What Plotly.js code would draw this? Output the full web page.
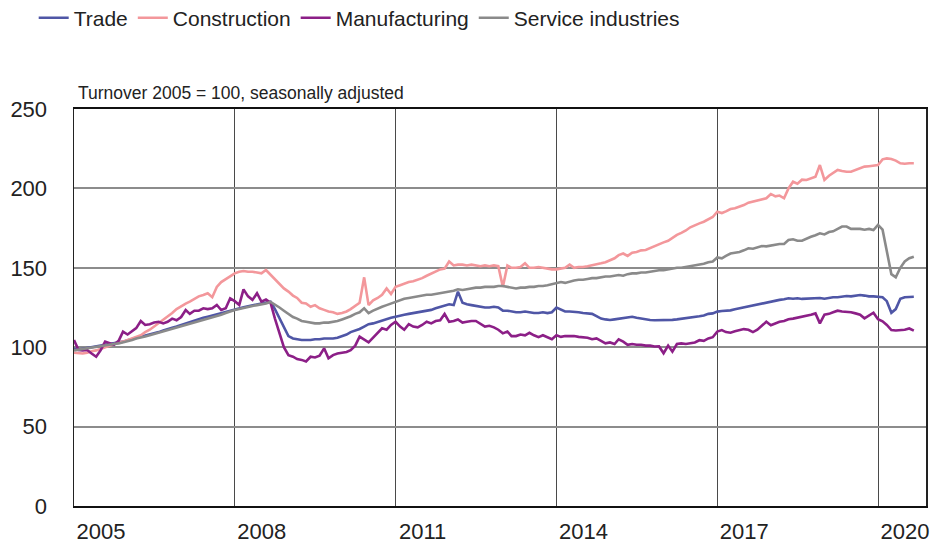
<!DOCTYPE html>
<html>
<head>
<meta charset="utf-8">
<script src="https://cdn.plot.ly/plotly-3.0.1.min.js"></script>
<style>html,body{margin:0;padding:0;background:#fff;}#chart{width:936px;height:547px;}</style>
</head>
<body>
<div id="chart"></div>
<script>
// Monthly index, Jan 2005 .. Sep 2020 (2005 = 100, seasonally adjusted)
const startYear = 2005;
const yTicks = [0, 50, 100, 150, 200, 250];
const xTickYears = [2005, 2008, 2011, 2014, 2017, 2020];

const trade = [
  99, 98.5, 99, 99.5, 99.8, 100.2, 100.8, 101.3, 101.8, 102.3, 103, 103.5,
  104.3, 105, 105.8, 106.6, 107.3, 107.8, 108.7, 109.5, 110.5, 111.5, 112.3, 113,
  114, 115, 116, 116.8, 117.8, 118.5, 119.2, 120, 120.8, 121.5, 122.3, 123.2,
  124, 124.6, 125.2, 125.8, 126.3, 126.8, 127.3, 127.8, 128.7, 124, 118, 112,
  107, 105.5, 105, 104.5, 104.5, 104.5, 105, 105, 105.5, 105.5, 105.5, 106,
  107, 108, 109.5, 110.5, 111.5, 113, 114.5, 115, 116, 117, 118, 118.5,
  119.2, 120, 120.5, 121, 121.5, 122.2, 122.5, 123, 123.5, 124.5, 125.5, 126,
  127, 126.5, 135, 128, 127, 126.5, 126, 125.5, 125, 125, 125.5, 125,
  123, 123, 122.5, 122, 122, 122.5, 122, 121.5, 121.5, 122, 121.5, 122,
  124.9, 123.5, 122.5, 122.5, 122.4, 122, 121.5, 121.3, 121, 119.5, 118, 117.5,
  117.1, 117.5, 118, 118.5, 119, 119.2, 118.5, 118, 117.5, 117.1, 117, 117,
  117.1, 117, 117.2, 117.5, 117.8, 118.2, 118.5, 119, 119.5, 120, 121, 121.3,
  122.4, 122.8, 123, 123.2, 123.9, 124.5, 125.2, 126, 126.6, 127.3, 127.8, 128.4,
  128.7, 129.3, 129.8, 130.2, 130.8, 130.5, 130.8, 130.4, 130.5, 130.8, 130.6, 131,
  130.5, 131, 131.5, 131.5, 132, 132.2, 132, 132.5, 132.9, 132.5, 132, 132,
  131.8, 131.5, 129, 121.7, 124, 130.5, 131.5, 131.8, 131.8
];

const construction = [
  96.5, 96.2, 96, 96.5, 97.5, 98, 99, 100, 101, 102, 103, 103.5,
  104.5, 105.5, 106.5, 107.5, 109.5, 111, 113, 115, 117, 119.5, 121.5, 124,
  126, 127.5, 128.7, 130.5, 132, 132.9, 134, 131.5, 138, 141, 143, 145,
  146.5, 147.5, 148, 147.5, 147.5, 147, 146.5, 148.6, 145.5, 143, 139.5, 137,
  135, 132.5, 131, 128, 127.5, 125.5, 126.5, 124.5, 123.5, 122.5, 122, 121,
  121.5, 122.5, 124, 126, 128, 144, 126.5, 129.5, 131, 133, 137, 133.5,
  138, 139, 140, 141, 141.5, 142.3, 143.5, 145, 146.5, 148, 149, 149.5,
  154, 151.5, 152, 152, 151.5, 152, 151.5, 151, 151.5, 151, 151.5, 151,
  138, 151.5, 150, 150, 150.5, 152.8, 150, 150, 150.5, 150, 149.5, 149,
  149, 149.5, 150, 152, 150, 150.5, 150.5, 151, 151.5, 152, 152.8, 153.5,
  155, 156, 158, 159, 157.5, 159.5, 160, 161, 161.2, 162.5, 163.5, 165,
  166, 167, 169, 170.7, 172, 173.5, 175.5, 176.5, 178, 179, 180.5, 182,
  185.3, 184.5, 185.5, 187, 187.5, 188.5, 189.5, 191, 191.7, 192.5, 193, 193.8,
  196.5, 195, 195.5, 193.8, 200, 204.2, 203, 205.5, 205.3, 206.5, 207.4, 214.7,
  205.3, 208, 209.5, 211.6, 211, 210.5, 210.5, 211.5, 212.5, 213.7, 214, 214.5,
  214.7, 218.3, 218.9, 218.5, 217.5, 215.8, 215.5, 215.8, 215.8
];

const manufacturing = [
  104.5, 98.2, 98, 98.2, 96, 94, 98, 103.5, 102.5, 101.5, 104, 109.8,
  108, 110, 112, 116.5, 114, 114.5, 115.5, 116, 115, 116, 118, 117,
  119, 123.4, 121, 123, 123, 124.5, 124, 124.5, 126.6, 123.4, 124.5, 130.8,
  129, 126.6, 136.4, 132, 129.8, 134, 128.7, 130, 128, 118, 109, 100,
  95, 94, 92.5, 92, 91, 94, 93.5, 94.6, 99.3, 93, 95, 96,
  96.5, 97, 98.2, 101, 106.6, 105, 103, 106, 109, 111.9, 111, 114,
  116, 113, 111, 114.5, 113, 112.5, 114, 116, 115, 116.5, 117, 120.9,
  116, 116.5, 117.5, 115.5, 116, 116.5, 116.5, 115, 113, 113.5, 112.5, 111,
  108.7, 109.8, 107, 107, 108, 107.5, 109.1, 107.5, 106.3, 107.5, 106, 105,
  107.5, 106.5, 107, 107, 107, 106.5, 106.3, 106, 105, 105.5, 104, 102.4,
  103, 102, 105, 103.5, 101.5, 102, 101.5, 101.5, 101, 101, 100.4, 100.5,
  96.2, 101, 97.2, 102, 102.4, 102, 102.5, 103, 104.4, 104, 105.5, 106.3,
  109.8, 110.8, 109.5, 109.1, 110, 110.5, 111.4, 111, 109.5, 111, 113.4, 116,
  113.8, 115, 116, 116.5, 117.6, 118, 118.5, 119.2, 120, 120.5, 121.3, 115,
  120.5, 121, 122, 123, 122.5, 122.4, 122, 121.3, 120.5, 118.2, 120, 121.7,
  117.6, 116.3, 114, 110.8, 110.5, 110.8, 111, 111.8, 110.4
];

const services = [
  98, 98.5, 98.8, 99.2, 99.5, 100, 100.6, 101, 101.5, 102, 102.4, 103,
  104, 104.5, 105.5, 106, 106.8, 107.5, 108.3, 109, 110, 110.8, 111.5, 112.2,
  113, 113.8, 114.5, 115.3, 116.2, 117.4, 118, 118.8, 119.7, 120.5, 121.5, 122.5,
  123.4, 124, 124.8, 125.5, 126, 126.5, 127, 127.5, 128.5, 127, 125, 123,
  121, 119, 118, 116.5, 116, 115.5, 115, 115, 115.5, 115.5, 116, 116.5,
  117.5, 118.5, 119.5, 121, 122, 124.5, 121.5, 123, 124.5, 125.5, 126.5, 127.5,
  128.5, 129.5, 130.5, 131, 131.5, 132, 132.5, 133, 133, 133.5, 134, 134.5,
  135, 135.5, 136.5, 136, 136.5, 137, 137.5, 137.5, 138, 138, 138, 138.5,
  138.5, 138, 137.5, 137, 137.5, 137.5, 138, 138, 138.5, 138.5, 139, 139.5,
  140.5, 141, 140.5, 141.5, 142, 142.5, 142.5, 143, 143.5, 143.5, 144, 144.5,
  144.5, 145, 145.5, 145, 146, 146.5, 146.5, 147, 147, 147.5, 148, 148.5,
  148.5, 149, 149.5, 150, 150, 150.5, 151, 151.5, 152, 152.5, 153.5, 154,
  156.5, 156, 157.5, 159, 159.5, 160, 161, 162.3, 162, 163, 163.7, 163.5,
  164, 164.5, 165, 165, 167.5, 168, 167, 167, 168.5, 169.5, 170.5, 171.7,
  171, 172.5, 173, 174.5, 176, 176, 174.5, 174.5, 174.5, 174, 174.5, 173.8,
  177, 174, 160, 146, 144, 150, 154, 156, 157
];

function monthDates(n) {
  const out = [];
  for (let i = 0; i < n; i++) {
    const y = startYear + Math.floor(i / 12);
    const m = (i % 12) + 1;
    out.push(y + '-' + String(m).padStart(2, '0') + '-01');
  }
  return out;
}

const FONT = 'Liberation Sans, Arial, sans-serif';
const series = [
  {name: 'Trade', y: trade, color: '#4f56a6'},
  {name: 'Construction', y: construction, color: '#f3979b'},
  {name: 'Manufacturing', y: manufacturing, color: '#8c1f87'},
  {name: 'Service industries', y: services, color: '#8a8a8a'}
];

const traces = series.map(s => ({
  type: 'scatter', mode: 'lines', name: s.name,
  x: monthDates(s.y.length), y: s.y,
  line: {color: s.color, width: 2.6}
}));

const layout = {
  width: 936, height: 547,
  margin: {l: 74, r: 10, t: 109, b: 41},
  paper_bgcolor: '#fff', plot_bgcolor: '#fff',
  font: {family: FONT, color: '#222'},
  showlegend: true,
  legend: {
    orientation: 'h', xref: 'container', x: 0.036, xanchor: 'left',
    yref: 'container', y: 0.967, yanchor: 'middle',
    font: {size: 21, color: '#222', family: FONT},
    itemwidth: 30, tracegroupgap: 0, bgcolor: 'rgba(0,0,0,0)'
  },
  xaxis: {
    type: 'date',
    range: ['2005-01-01', '2020-11-23'],
    tickmode: 'array',
    tickvals: xTickYears.map(y => y + '-01-01'),
    ticktext: xTickYears.map(String),
    ticklabelshift: 27,
    ticklabelstandoff: 5,
    ticks: '',
    tickfont: {size: 22, color: '#222', family: FONT},
    showgrid: true, gridcolor: '#4a4a4a', gridwidth: 1,
    showline: true, linecolor: '#111', linewidth: 2, mirror: true,
    zeroline: false, fixedrange: true
  },
  yaxis: {
    range: [0, 250],
    tickmode: 'array', tickvals: yTicks,
    ticks: '',
    ticklabelstandoff: 21,
    tickfont: {size: 22, color: '#222', family: FONT},
    showgrid: true, gridcolor: '#8c8c8c', gridwidth: 2,
    showline: true, linecolor: '#222', linewidth: 1.5, mirror: true,
    zeroline: false, fixedrange: true
  },
  annotations: [{
    text: 'Turnover 2005 = 100, seasonally adjusted',
    xref: 'paper', yref: 'paper', x: 0.002, y: 1.04,
    xanchor: 'left', yanchor: 'middle', showarrow: false,
    font: {size: 17.5, color: '#222', family: FONT}
  }]
};

Plotly.newPlot('chart', traces, layout, {displayModeBar: false, staticPlot: true});
</script>
</body>
</html>
